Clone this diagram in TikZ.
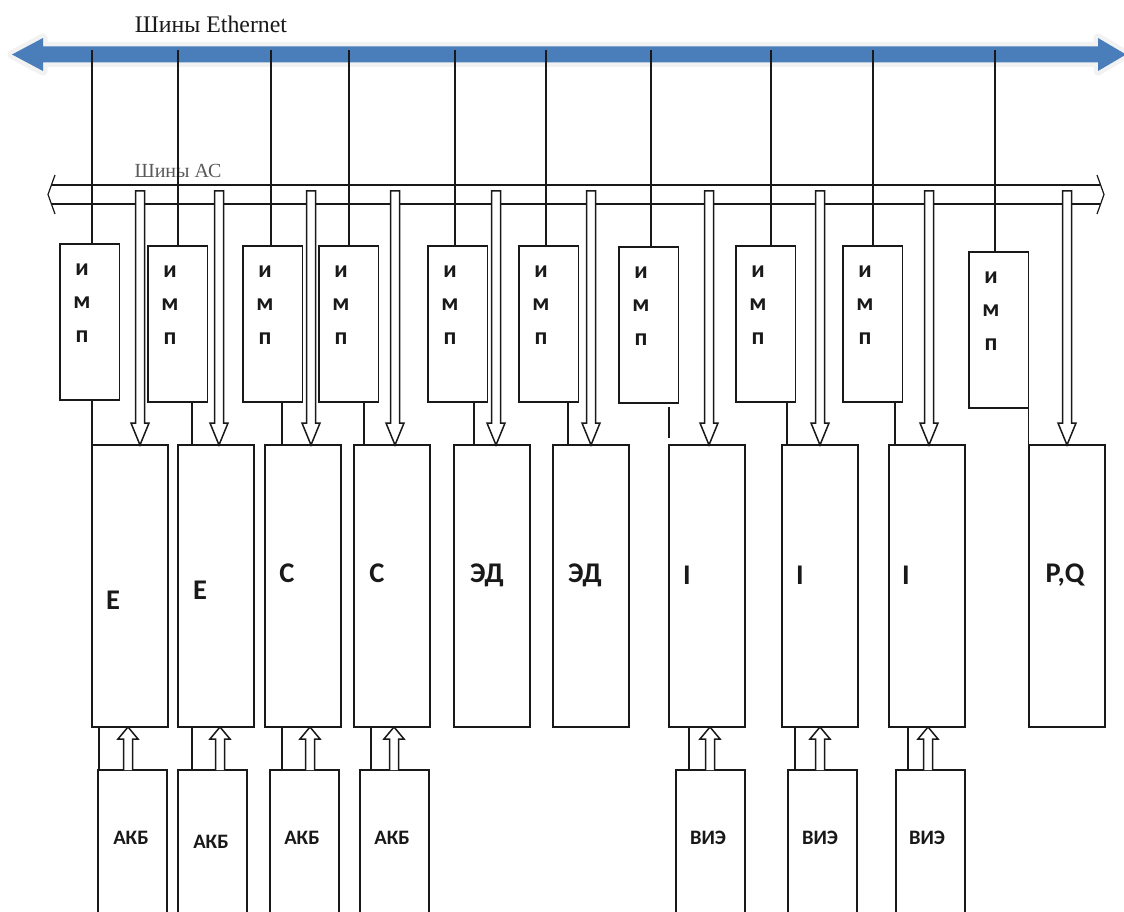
\documentclass[tikz,border=0pt]{standalone}
\usepackage{fontspec}
\setmainfont{Liberation Serif}
\newfontfamily\carl{Carlito}
\definecolor{ethblue}{RGB}{74,126,187}
\definecolor{ink}{RGB}{25,25,25}
\newcommand\hdown[3]{%
  \coordinate (hs) at (#1,0 |- #2);
  \coordinate (ht) at (#1,0 |- #3);
  \draw[hollow] ([shift={(-4.5,0)}]hs) -- ([shift={(4.5,0)}]hs) -- ([shift={(4.5,-22)}]ht)
   -- ([shift={(9,-22)}]ht) -- (ht) -- ([shift={(-9,-22)}]ht) -- ([shift={(-4.5,-22)}]ht) -- cycle;}
\newcommand\hup[3]{%
  \coordinate (hs) at (#1,0 |- #2);
  \coordinate (ht) at (#1,0 |- #3);
  \draw[hollow] ([shift={(-4.5,0)}]hs) -- ([shift={(-4.5,12)}]ht) -- ([shift={(-10,12)}]ht)
   -- (ht) -- ([shift={(10,12)}]ht) -- ([shift={(4.5,12)}]ht) -- ([shift={(4.5,0)}]hs);}
\begin{document}
\begin{tikzpicture}[x=1pt,y=-1pt,
  box/.style={draw=ink, line width=1.6pt, inner sep=0pt, outer sep=0pt, anchor=north west, fill=white},
  imp/.style={box, minimum width=59.5pt, minimum height=156pt},
  mainbox/.style={box, minimum width=76pt, minimum height=282pt},
  lowbox/.style={box, minimum width=69pt, minimum height=170pt},
  wire/.style={draw=ink, line width=1.4pt},
  hollow/.style={draw=ink, line width=1.5pt, fill=white, line join=miter},
  implbl/.style={font=\carl\bfseries\fontsize{24}{33.5}\selectfont, align=center, inner sep=0pt, text=ink},
  bigl/.style={font=\carl\bfseries\fontsize{28.5}{28.5}\selectfont, inner sep=0pt, text=ink},
  lowl/.style={font=\carl\bfseries\fontsize{20.5}{20.5}\selectfont, inner sep=0pt, text=ink},
]
\useasboundingbox (0,0) rectangle (1124,912);
\clip (0,0) rectangle (1124,912);

% Ethernet bus
\fill[ethblue, preaction={draw=black!5, line width=9pt, line join=round}]
  (12,54.5) -- (43,38) -- (43,46.5) -- (1098,46.5) -- (1098,38) -- (1126,54.5)
  -- (1098,71) -- (1098,62.5) -- (43,62.5) -- (43,71) -- cycle;
\node[text=ink, font=\fontsize{23.8}{23.8}\selectfont, inner sep=0pt] (ethlbl) at (211,24) {Шины Ethernet};
\coordinate (ethbus) at (0,50);

% AC bus
\node[text=black!65, font=\fontsize{20}{20}\selectfont, inner sep=0pt] (aclbl) at (178,171) {Шины АС};
\draw[wire] (51,185) -- (1100,185);
\draw[wire] (51,204) -- (1100,204);
\draw[wire, line width=1.2pt] (55,175) .. controls (51,184) .. (48,194.5) .. controls (51,205) .. (55,214);
\draw[wire, line width=1.2pt] (1097,175) .. controls (1101,184) .. (1104,194.5) .. controls (1101,205) .. (1097,214);
\coordinate (acb) at (0,191);

% IMP boxes
\foreach \k/\l/\t in {1/60/244, 2/148/246, 3/243/246, 4/319/246, 5/428/246, 6/519/246, 7/619/247, 8/736/246, 9/843/246, 10/969/252}{
  \node[imp] (i\k) at (\l,\t) {};
  \node[implbl] (ti\k) at (\l+22,\t+59) {и\\м\\п};
}

% Main boxes
\foreach \k/\l in {1/92, 2/178, 3/265, 4/354, 5/454, 6/553, 7/669, 8/782, 9/889, 10/1029}{
  \node[mainbox] (m\k) at (\l,445) {};
}
\node[bigl] (lm1) at (113,600) {E};
\node[bigl] (lm2) at (200,590) {E};
\node[bigl] (lm3) at (287,573) {C};
\node[bigl] (lm4) at (377,573) {C};
\node[bigl] (lm5) at (487,575) {ЭД};
\node[bigl] (lm6) at (585,575) {ЭД};
\node[bigl] (lm7) at (687,575) {I};
\node[bigl] (lm8) at (800,575) {I};
\node[bigl] (lm9) at (906,575) {I};
\node[bigl] (lm10) at (1065,575) {P,Q};

% Lower boxes
\foreach \k/\l/\txt/\tx/\ty in {1/98/АКБ/131/838, 2/178/АКБ/211/842, 3/270/АКБ/302/838, 4/360/АКБ/392/838, 5/676/ВИЭ/708/838, 6/788/ВИЭ/820/838, 7/896/ВИЭ/927/838}{
  \node[lowbox] (b\k) at (\l,770) {};
  \node[lowl] (tb\k) at (\tx,\ty) {\txt};
}

% Ethernet drops
\foreach \k/\xx in {1/92, 2/178, 3/271, 4/349, 5/455, 6/546, 7/651, 8/771, 9/873, 10/995}{
  \draw[wire] (\xx,0 |- ethbus) -- (\xx,0 |- i\k.north);
}

% IMP -> main
\foreach \k/\xx in {1/92, 2/192, 3/282, 4/364, 5/474, 6/568, 8/787, 9/895}{
  \draw[wire] (\xx,0 |- i\k.south) -- (\xx,0 |- m\k.north);
}
\draw[wire] ([yshift=-4pt]669,0 |- i7.south) -- ([yshift=7pt]669,0 |- m7.north);
\draw[wire] (i10.south east) -- (i10.south east |- m10.north);

% AC bus -> main (hollow arrows)
\foreach \k/\xx in {1/140, 2/219, 3/311, 4/395, 5/496, 6/591, 7/709, 8/820, 9/929, 10/1067}{
  \hdown{\xx}{acb}{m\k.north}
}

% lower -> main
\foreach \bb/\mm/\px/\ax in {1/1/99/128, 2/2/192/220, 3/3/282/310, 4/4/371/394, 5/7/689/710, 6/8/795/820, 7/9/908/928}{
  \draw[wire] (\px,0 |- b\bb.north) -- (\px,0 |- m\mm.south);
  \hup{\ax}{b\bb.north}{m\mm.south}
}
\end{tikzpicture}
\end{document}
